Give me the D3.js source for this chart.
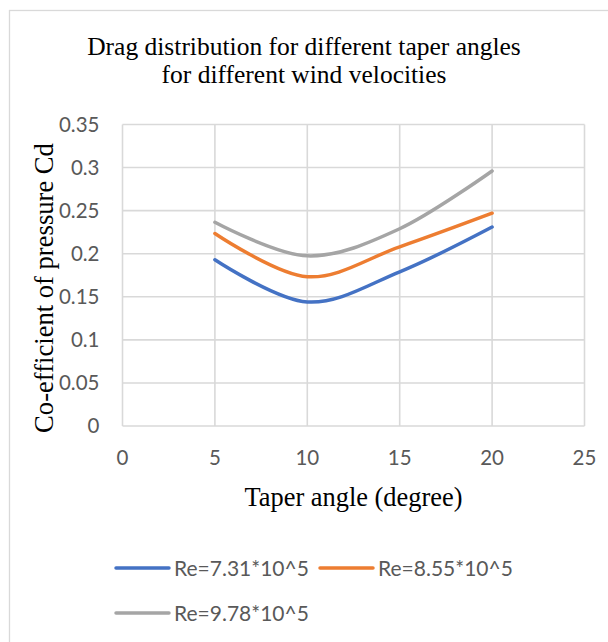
<!DOCTYPE html>
<html>
<head>
<meta charset="utf-8">
<script src="https://cdnjs.cloudflare.com/ajax/libs/d3/7.8.5/d3.min.js"></script>
<style>
body { margin: 0; background: #fff; }
</style>
</head>
<body>
<div id="chart"></div>
<script>
var width = 608,
height = 642,
left = 122.5,
right = 584.5,
top_y = 124.5,
bottom_y = 426;

// data
var angles = [5, 10, 15, 20];
var re731 = [0.193, 0.144, 0.179, 0.231];
var re855 = [0.2235, 0.1733, 0.208, 0.247];
var re978 = [0.2365, 0.1975, 0.229, 0.296];
var seriesNames = ["Re=7.31*10^5", "Re=8.55*10^5", "Re=9.78*10^5"];
var seriesColors = ["#4472C4", "#ED7D31", "#A5A5A5"];
var xTicks = [0, 5, 10, 15, 20, 25];
var yTicks = [0, 0.05, 0.1, 0.15, 0.2, 0.25, 0.3, 0.35];

var series = [re731, re855, re978].map(function(vals, i) {
	return {
		name: seriesNames[i],
		color: seriesColors[i],
		points: vals.map(function(v, j) { return { x: angles[j], y: v }; })
	};
});

var svg = d3.select("#chart")
.append("svg")
.attr("width", width)
.attr("height", height);

// outer chart border
svg.append("rect")
.attr("x", 9.5)
.attr("y", 10.5)
.attr("width", 700)
.attr("height", 700)
.attr("fill", "none")
.attr("stroke", "#d9d9d9")
.attr("stroke-width", 1.3);

var xScale = d3.scaleLinear()
.domain([0, 25])
.range([left, right]);

var yScale = d3.scaleLinear()
.domain([0, 0.35])
.range([bottom_y, top_y]);

// gridlines
svg.selectAll(".hgrid")
.data(yTicks)
.enter()
.append("line")
.attr("class", "hgrid")
.attr("x1", left)
.attr("x2", right)
.attr("y1", function(d) { return yScale(d); })
.attr("y2", function(d) { return yScale(d); })
.attr("stroke", "#d9d9d9")
.attr("stroke-width", 1.6);

svg.selectAll(".vgrid")
.data(xTicks)
.enter()
.append("line")
.attr("class", "vgrid")
.attr("x1", function(d) { return xScale(d); })
.attr("x2", function(d) { return xScale(d); })
.attr("y1", top_y)
.attr("y2", bottom_y)
.attr("stroke", "#d9d9d9")
.attr("stroke-width", 1.6);

// tick labels
svg.selectAll(".ylab")
.data(yTicks)
.enter()
.append("text")
.attr("class", "ylab")
.text(function(d) { return d; })
.attr("x", 99.5)
.attr("y", function(d) { return yScale(d); })
.attr("dy", "0.36em")
.attr("text-anchor", "end")
.attr("font-family", "Lato, sans-serif")
.attr("font-size", "20.5px")
.attr("fill", "#595959");

svg.selectAll(".xlab")
.data(xTicks)
.enter()
.append("text")
.attr("class", "xlab")
.text(function(d) { return d; })
.attr("x", function(d) { return xScale(d); })
.attr("y", 465)
.attr("text-anchor", "middle")
.attr("font-family", "Lato, sans-serif")
.attr("font-size", "20.5px")
.attr("fill", "#595959");

// lines
var line = d3.line()
.x(function(d) { return xScale(d.x); })
.y(function(d) { return yScale(d.y); })
.curve(d3.curveCardinal.tension(0));

svg.selectAll(".series")
.data(series)
.enter()
.append("path")
.attr("class", "series")
.attr("d", function(d) { return line(d.points); })
.attr("fill", "none")
.attr("stroke", function(d) { return d.color; })
.attr("stroke-width", 3.5)
.attr("stroke-linecap", "round");

// titles
var title = svg.append("text")
.attr("x", 304)
.attr("text-anchor", "middle")
.attr("font-family", "'Liberation Serif', 'Times New Roman', serif")
.attr("font-size", "25.5px")
.attr("fill", "#000");

title.append("tspan").attr("x", 304).attr("y", 55).text("Drag distribution for different taper angles");
title.append("tspan").attr("x", 304).attr("y", 83).text("for different wind velocities");

svg.append("text")
.text("Taper angle (degree)")
.attr("x", (left + right) / 2)
.attr("y", 506)
.attr("text-anchor", "middle")
.attr("font-family", "'Liberation Serif', 'Times New Roman', serif")
.attr("font-size", "26.4px")
.attr("fill", "#000");

svg.append("text")
.text("Co-efficient of pressure Cd")
.attr("transform", "translate(53,288) rotate(-90)")
.attr("text-anchor", "middle")
.attr("font-family", "'Liberation Serif', 'Times New Roman', serif")
.attr("font-size", "26.6px")
.attr("fill", "#000");

// legend
var legendPos = [
	{ x: 116, y: 568 },
	{ x: 320, y: 568 },
	{ x: 116, y: 613 }
];

var legend = svg.selectAll(".legend")
.data(series)
.enter()
.append("g")
.attr("class", "legend")
.attr("transform", function(d, i) {
	return "translate(" + legendPos[i].x + "," + legendPos[i].y + ")";
});

legend.append("line")
.attr("x1", 0)
.attr("x2", 53)
.attr("y1", 0)
.attr("y2", 0)
.attr("stroke", function(d) { return d.color; })
.attr("stroke-width", 3.5)
.attr("stroke-linecap", "round");

legend.append("text")
.text(function(d) { return d.name; })
.attr("x", 58)
.attr("y", 0)
.attr("dy", "0.36em")
.attr("font-family", "Lato, sans-serif")
.attr("font-size", "21px")
.attr("fill", "#595959");
</script>
</body>
</html>
